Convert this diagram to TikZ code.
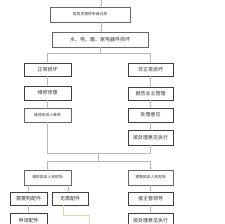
\documentclass[tikz,border=0pt]{standalone}
\usepackage{fontspec}
\setmainfont{Noto Sans CJK SC}
\usetikzlibrary{arrows.meta}
\begin{document}
\begin{tikzpicture}[x=1pt,y=-1pt,
  box/.style={draw=black!75, line width=0.7pt, fill=white, inner sep=0pt,
    font=\fontsize{5}{6}\selectfont, text=black!80},
  thinbox/.style={box, draw=black!60, line width=0.5pt},
  smalltext/.style={font=\fontsize{3.8}{4.5}\selectfont},
  wire/.style={draw=gray!55, line width=0.5pt},
  arr/.style={wire, -{Stealth[length=2pt,width=2pt]}},
  pale/.style={draw={rgb,255:red,225;green,215;blue,170}, line width=0.5pt}]
\useasboundingbox (0,0) rectangle (224,224);
\fill[white] (0,0) rectangle (224,224);

% top
\node[thinbox, smalltext, minimum width=80pt, minimum height=15pt] (b1) at (90,14.5) {各层员报修申请记录};
\node[thinbox, minimum width=96pt, minimum height=15pt] (b2) at (100,39.5) {水、电、暖、家电器件损坏};

% left column
\node[box, minimum width=47pt, minimum height=13pt] (L1) at (47.5,69.5) {正常损坏};
\node[box, minimum width=47pt, minimum height=14pt] (L2) at (47.5,93) {维修修理};
\node[thinbox, smalltext, minimum width=47pt, minimum height=14pt] (L3) at (47.5,115) {维修班派人维修};

% right column
\node[box, minimum width=45pt, minimum height=13pt] (R1) at (150.5,69.5) {非正常损坏};
\node[box, minimum width=45pt, minimum height=13pt] (R2) at (150.5,93.5) {报告业主管理};
\node[box, minimum width=45pt, minimum height=14pt] (R3) at (150.5,115) {处理意见};
\node[box, minimum width=45pt, minimum height=15pt] (R4) at (150.5,137.5) {按处理意见执行};

% lower level
\node[thinbox, smalltext, minimum width=47pt, minimum height=15pt] (L4) at (47.5,177.5) {维修部派人到现场};
\node[thinbox, smalltext, minimum width=45pt, minimum height=15pt] (R5) at (150.5,177.5) {预算部派人到现场};

\node[box, minimum width=37pt, minimum height=13pt] (L5) at (28.5,198.5) {需要购配件};
\node[box, minimum width=36pt, minimum height=13pt] (L6) at (70,198.5) {无需配件};
\node[box, minimum width=37pt, minimum height=15pt] (L7) at (28.5,220.5) {申领配件};
\node[box, minimum width=45pt, minimum height=13pt] (R6) at (150.5,198.5) {报主管领导};
\node[box, minimum width=45pt, minimum height=15pt] (R7) at (150.5,220.5) {按处理意见执行};

% connectors
\coordinate (c0) at (101,0);
\draw[arr] (c0) -- (c0 |- b1.north);
\draw[arr] (c0 |- b1.south) -- (c0 |- b2.north);
\coordinate (s1) at (100,53);
\draw[wire] (b2.south) -- (s1);
\draw[arr] (s1) -| (L1.north);
\draw[arr] (s1) -| (R1.north);
\draw[arr] (L1) -- (L2);
\draw[arr] (L2) -- (L3);
\draw[arr] (R1) -- (R2);
\draw[arr] (R2) -- (R3);
\draw[arr] (R3) -- (R4);
\coordinate (m1) at (98,153);
\coordinate (s2) at (98,161);
\draw[wire] (L3.south) |- (m1);
\draw[wire] (R4.south) |- (m1);
\draw[wire] (m1) -- (s2);
\draw[arr] (s2) -| (L4.north);
\draw[arr] (s2) -| (R5.north);
\draw[arr] (L4.south -| L5.north) -- (L5.north);
\draw[arr] ([xshift=-2pt]L4.south -| L6.north) -- ([xshift=-2pt]L6.north);
\draw[arr] (L5) -- (L7);
\draw[arr] (R5) -- (R6);
\draw[arr] (R6) -- (R7);
\coordinate (e1) at (89,228);
\draw[pale] ([xshift=-7pt]L6.south) -- ++(0,10) -| (e1);
\end{tikzpicture}
\end{document}
